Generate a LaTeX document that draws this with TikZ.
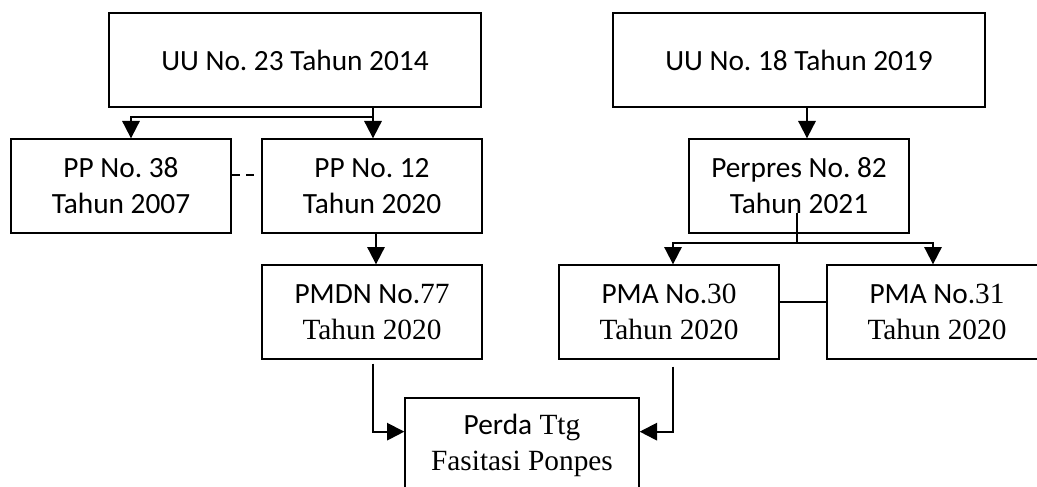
\documentclass[tikz,border=0pt]{standalone}
\usepackage{fontspec}
\setmainfont{Liberation Serif}
\newfontfamily\calibri{Carlito}
\usetikzlibrary{arrows.meta}
\frenchspacing

\begin{document}
\begin{tikzpicture}[x=0.75pt, y=0.75pt,
    box/.style={draw=black, line width=1pt, align=center, inner sep=0pt,
        minimum width=165pt, minimum height=70.5pt,
        font=\fontsize{22}{27}\selectfont},
    widebox/.style={box, minimum width=279pt},
    arr/.style={line width=1.5pt, -{Triangle[width=13pt,length=13pt]}},
    link/.style={line width=1.3pt}]
    \useasboundingbox (0,0) rectangle (1037,486);
    \clip (0,0) rectangle (1037,486);

    % top row
    \node[widebox] (uuA) at (295,426) {\calibri UU No. 23 Tahun 2014};
    \node[widebox] (uuB) at (799,426) {\calibri UU No. 18 Tahun 2019};

    % second row
    \node[box] (pp38) at (121,300) {\calibri PP No. 38\\ \calibri Tahun 2007};
    \node[box] (pp12) at (372,300) {\calibri PP No. 12\\ \calibri Tahun 2020};
    \node[box] (perpres) at (799,300) {\calibri Perpres No. 82\\ \calibri Tahun 2021};

    % third row
    \node[box] (pmdn) at (372,174) {{\calibri PMDN No.}77\\ Tahun 2020};
    \node[box] (pma30) at (669,174) {{\calibri PMA No.}30\\ Tahun 2020};
    \node[box] (pma31) at (937,174) {{\calibri PMA No.}31\\ Tahun 2020};

    % bottom
    \node[box, minimum width=175.5pt] (perda) at (522,41) {{\calibri Perda} Ttg\\ Fasitasi Ponpes};

    \coordinate (splitA) at (373,369);
    \coordinate (splitB) at (797,243);

    \draw[arr] (uuA.south -| splitA) -- (pp12.north -| splitA);
    \draw[arr] (splitA) -| (pp38.north -| 131,0);
    \draw[link, dashed, dash pattern=on 6pt off 5pt] ([yshift=8pt]pp38.east) -- ([yshift=8pt]pp12.west);

    \draw[arr] (uuB.south -| 807,0) -- (perpres.north -| 807,0);
    \draw[link] (splitB |- 0,273) -- (splitB);
    \draw[arr] (splitB) -| (pma30.north -| 673,0);
    \draw[arr] (splitB) -| (pma31.north -| 933,0);
    \draw[link] ([yshift=7.5pt]pma30.east) -- ([yshift=7.5pt]pma31.west);

    \draw[arr] (pp12.south -| 376,0) -- (pmdn.north -| 376,0);

    \draw[arr] (pmdn.south -| 373,0) ++(0,-4) |- ([yshift=10pt]perda.west);
    \draw[arr] (pma30.south -| 673,0) ++(0,-7) |- ([yshift=10pt]perda.east);
\end{tikzpicture}
\end{document}
